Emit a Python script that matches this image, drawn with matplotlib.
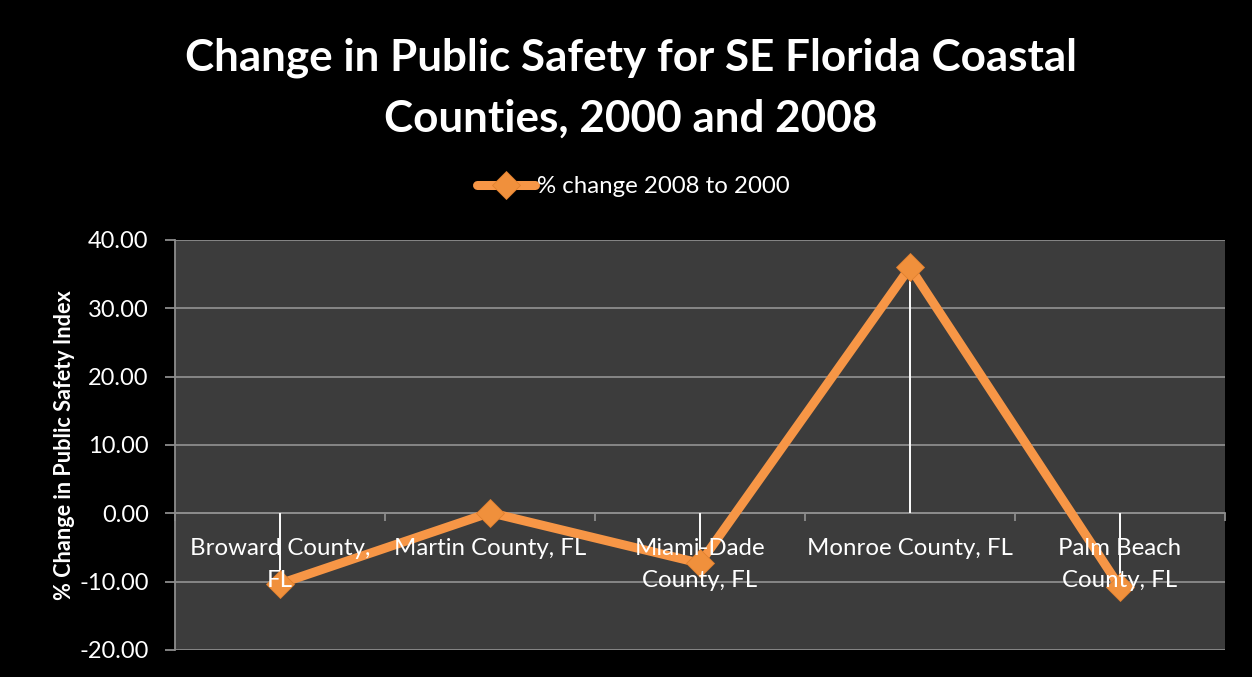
import matplotlib.pyplot as plt
import numpy as np

# Valores
counties = ["Broward County,\nFL", "Martin County, FL", "Miami-Dade\nCounty, FL",
            "Monroe County, FL", "Palm Beach\nCounty, FL"]
pct_change = [-10.3, 0.1, -7.3, 36.0, -10.8]
y_ticks = [-20, -10, 0, 10, 20, 30, 40]

ORANGE = "#F79646"
PLOT_BG = "#3c3c3c"
GRID = "#8c8c8c"
FONT = "Lato"


def main():
    fig = plt.figure(figsize=(12.52, 6.77), dpi=100, facecolor="black")
    ax = fig.add_axes([0.1398, 0.0399, 0.8386, 0.6056])
    ax.set_facecolor(PLOT_BG)

    x = np.arange(len(counties))

    # grade horizontal por baixo da linha
    for v in y_ticks:
        ax.axhline(v, color=GRID, linewidth=1.3, zorder=1)

    # linhas verticais (drop lines) do ponto até o zero
    ax.vlines(x, 0, pct_change, colors="white", linewidth=1.4, zorder=1.8)
    ax.plot(x, pct_change, color=ORANGE, linewidth=6.5, marker="D", markersize=14,
            markerfacecolor="#F0903C", markeredgecolor="#E0802F", markeredgewidth=0.6,
            solid_capstyle="round", zorder=2, label="% change 2008 to 2000")

    ax.set_xlim(-0.5, len(counties) - 0.5)
    ax.set_ylim(-20, 40)
    ax.set_yticks(y_ticks)
    ax.set_yticklabels([f"{v:.2f}" for v in y_ticks], color="white", fontsize=17,
                       fontfamily=FONT)
    ax.set_axisbelow(False)  # rótulos das categorias por cima da linha

    # eixo x passando pelo zero, ticks nos limites das categorias
    ax.spines["bottom"].set_position(("data", 0))
    ax.spines["bottom"].set_color(GRID)
    ax.spines["bottom"].set_linewidth(1.3)
    ax.spines["bottom"].set_zorder(1)
    ax.spines["left"].set_color(GRID)
    ax.spines["left"].set_linewidth(1.3)
    ax.spines["top"].set_visible(False)
    ax.spines["right"].set_visible(False)

    ax.set_xticks(np.arange(len(counties) + 1) - 0.5)
    ax.set_xticklabels([])
    ax.set_xticks(x, minor=True)
    ax.set_xticklabels(counties, minor=True, color="white", fontsize=17.3,
                       fontfamily=FONT, linespacing=1.6)
    ax.tick_params(axis="x", which="major", direction="out", length=6, color=GRID, width=1.3)
    ax.tick_params(axis="x", which="minor", length=0, pad=18)
    ax.tick_params(axis="y", direction="out", length=7, color=GRID, width=1.3, pad=12)

    ax.set_ylabel("% Change in Public Safety Index", color="white", fontsize=15.6,
                  fontweight="bold", fontfamily=FONT, labelpad=3)

    fig.suptitle("Change in Public Safety for SE Florida Coastal\nCounties, 2000 and 2008",
                 x=0.504, y=0.944, color="white", fontsize=31.7, fontweight="bold",
                 fontfamily=FONT, linespacing=1.6)

    leg = fig.legend(loc="center", bbox_to_anchor=(0.506, 0.724), frameon=False,
                     prop={"family": FONT, "size": 17.3}, handlelength=2.4,
                     handletextpad=0.1)
    for t in leg.get_texts():
        t.set_color("white")

    fig.savefig("out.png", dpi=100, facecolor="black")


if __name__ == "__main__":
    main()
